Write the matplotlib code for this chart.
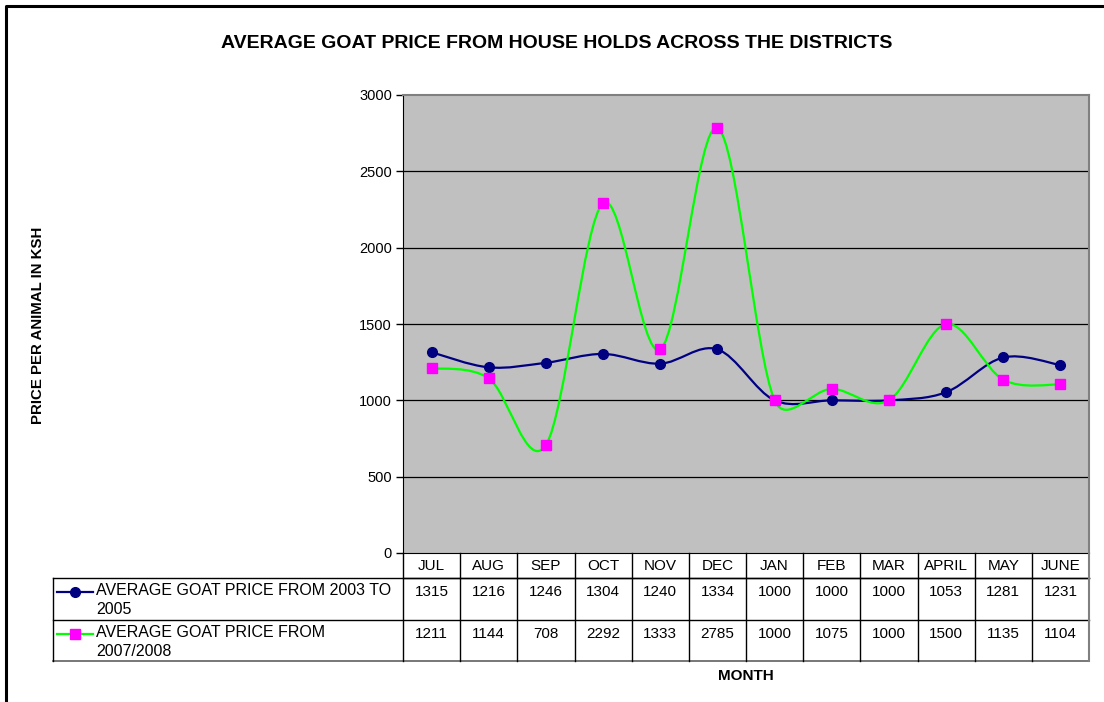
import numpy as np
import matplotlib.pyplot as plt
from matplotlib.path import Path
from matplotlib.patches import PathPatch
from matplotlib.lines import Line2D
from matplotlib.transforms import blended_transform_factory

plt.rcParams['font.family'] = ['Liberation Sans', 'DejaVu Sans']

months = ["JUL", "AUG", "SEP", "OCT", "NOV", "DEC", "JAN", "FEB", "MAR", "APRIL", "MAY", "JUNE"]
price_0305 = [1315, 1216, 1246, 1304, 1240, 1334, 1000, 1000, 1000, 1053, 1281, 1231]
price_0708 = [1211, 1144, 708, 2292, 1333, 2785, 1000, 1075, 1000, 1500, 1135, 1104]
label_0305 = "AVERAGE GOAT PRICE FROM 2003 TO\n2005"
label_0708 = "AVERAGE GOAT PRICE FROM\n2007/2008"

W, H = 1104, 702
fig = plt.figure(figsize=(W / 100, H / 100), dpi=100)
fig.patch.set_facecolor("white")

# plot area in pixels
L, R, T, B = 403, 1089, 95, 553
ax = fig.add_axes([L / W, 1 - B / H, (R - L) / W, (B - T) / H])
ax.set_facecolor("#C0C0C0")
ax.set_xlim(-0.5, len(months) - 0.5)
ax.set_ylim(0, 3000)
ax.set_yticks(range(0, 3001, 500))
ax.set_xticks([])
ax.tick_params(axis="y", length=5, width=1, labelsize=10.5, pad=3)
for y in range(500, 3000, 500):
    ax.axhline(y, color="black", lw=0.9, zorder=1)
ax.spines["left"].set_color("black")
ax.spines["bottom"].set_color("black")
for s in ["top", "right"]:
    ax.spines[s].set_color("#808080")
    ax.spines[s].set_linewidth(1.5)

# pixel scale of one x unit / one y unit, so smoothing works in screen space
sx = (R - L) / len(months)
sy = (B - T) / 3000


def smooth_path(xs, ys):
    # Excel-style smoothed line: Catmull-Rom bezier, arms capped at half the segment
    p = np.column_stack([np.asarray(xs) * sx, np.asarray(ys) * sy]).astype(float)
    n = len(p)
    verts = [p[0]]
    codes = [Path.MOVETO]
    for i in range(n - 1):
        p0 = p[i - 1] if i > 0 else p[i]
        p3 = p[i + 2] if i + 2 < n else p[i + 1]
        seg = np.linalg.norm(p[i + 1] - p[i])
        t1 = (p[i + 1] - p0) / 6
        t2 = (p3 - p[i]) / 6
        if np.linalg.norm(t1) > seg / 2:
            t1 = t1 * (seg / 2) / np.linalg.norm(t1)
        if np.linalg.norm(t2) > seg / 2:
            t2 = t2 * (seg / 2) / np.linalg.norm(t2)
        verts += [p[i] + t1, p[i + 1] - t2, p[i + 1]]
        codes += [Path.CURVE4] * 3
    verts = np.array(verts) / [sx, sy]
    return Path(verts, codes)


x = np.arange(len(months))
for vals, lc, mk, mc, ms in [(price_0305, "#000080", "o", "#000080", 7),
                             (price_0708, "#00FF00", "s", "#FF00FF", 7.5)]:
    ax.add_patch(PathPatch(smooth_path(x, vals), fill=False, ec=lc, lw=1.6, zorder=3))
    ax.plot(x, vals, ls="none", marker=mk, ms=ms, mfc=mc, mec=mc, zorder=4)

# data table below the plot
tr = blended_transform_factory(ax.transData, fig.transFigure)
fy = lambda py: 1 - py / H
xl = 53
line_kw = dict(color="black", lw=1)
fig.add_artist(Line2D([-0.5, 11.5], [fy(578), fy(578)], transform=tr, **line_kw))
fig.add_artist(Line2D([xl / W, R / W], [fy(578), fy(578)], transform=fig.transFigure, **line_kw))
fig.add_artist(Line2D([xl / W, R / W], [fy(620), fy(620)], transform=fig.transFigure, **line_kw))
fig.add_artist(Line2D([xl / W, R / W], [fy(661), fy(661)], transform=fig.transFigure, color="#606060", lw=1.2))
for i in range(len(months) + 1):
    last = i == len(months)
    fig.add_artist(Line2D([i - 0.5, i - 0.5], [fy(553), fy(661)], transform=tr,
                          color="#808080" if last else "black", lw=1.5 if last else 1))
fig.add_artist(Line2D([xl / W, xl / W], [fy(578), fy(661)], transform=fig.transFigure, **line_kw))

for i, m in enumerate(months):
    fig.text(i, fy(566), m, transform=tr, ha="center", va="center", fontsize=11)
    fig.text(i, fy(592), str(price_0305[i]), transform=tr, ha="center", va="center", fontsize=11)
    fig.text(i, fy(634), str(price_0708[i]), transform=tr, ha="center", va="center", fontsize=11)

# legend keys inside the table
for yk, lc, mk, mc, ms, lab in [(592, "#000080", "o", "#000080", 7, label_0305),
                                (634, "#00FF00", "s", "#FF00FF", 7.5, label_0708)]:
    fig.add_artist(Line2D([57 / W, 93 / W], [fy(yk), fy(yk)], transform=fig.transFigure, color=lc, lw=1.6))
    fig.add_artist(Line2D([75 / W], [fy(yk)], transform=fig.transFigure, marker=mk, ms=ms,
                          mfc=mc, mec=mc, ls="none"))
    fig.text(96 / W, fy(yk - 9), lab, ha="left", va="top", fontsize=11.5, linespacing=1.35)

fig.text(557 / W, fy(43), "AVERAGE GOAT PRICE FROM HOUSE HOLDS ACROSS THE DISTRICTS",
         ha="center", va="center", fontsize=14, fontweight="bold")
fig.text(38 / W, fy(325), "PRICE PER ANIMAL IN KSH", ha="center", va="center",
         rotation=90, fontsize=10.8, fontweight="bold")
fig.text(746 / W, fy(676), "MONTH", ha="center", va="center", fontsize=11, fontweight="bold")

# outer chart border (right and bottom fall outside the image)
fig.add_artist(Line2D([6 / W, 6 / W, 1.0], [0.0, fy(6), fy(6)], transform=fig.transFigure,
                      color="black", lw=2.2))

fig.savefig("out.png", dpi=100)
